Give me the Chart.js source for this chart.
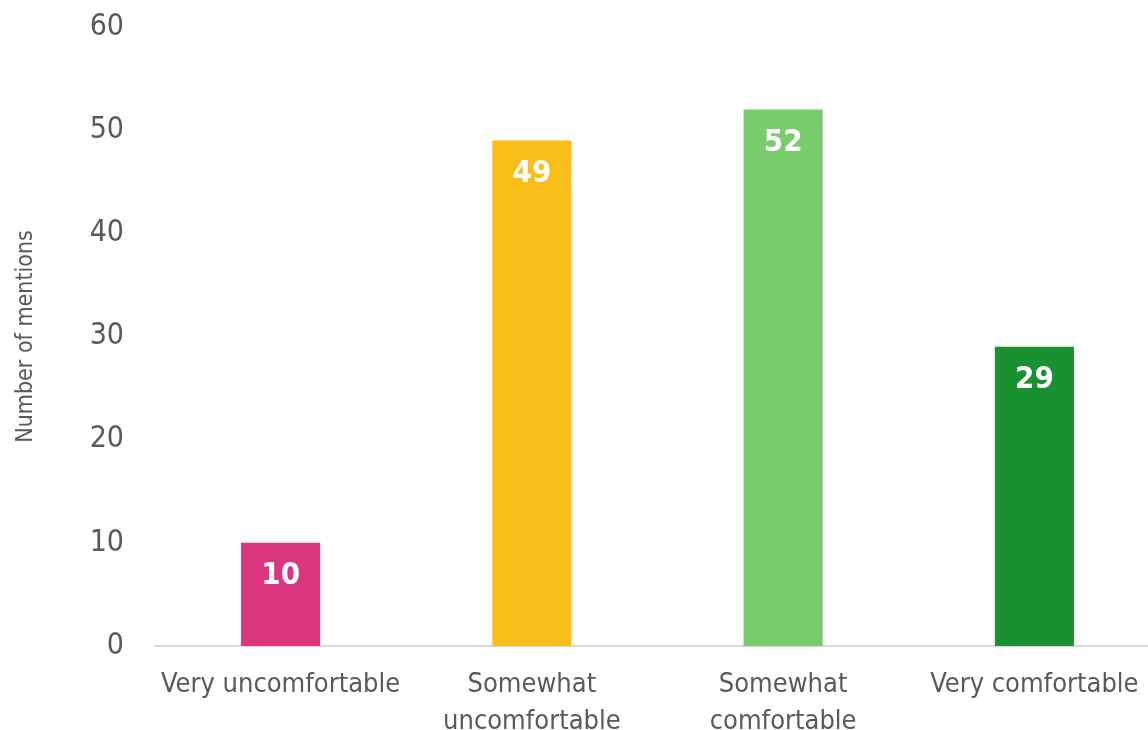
<!DOCTYPE html>
<html>
<head>
<meta charset="utf-8">
<script src="https://cdn.jsdelivr.net/npm/chart.js@4.4.0/dist/chart.umd.min.js"></script>
<style>
  html, body { margin: 0; padding: 0; background: #fff; overflow: hidden; }
  #wrap { width: 1160px; height: 730px; }
</style>
</head>
<body>
<div id="wrap"><canvas id="comfortChart" width="1160" height="730"></canvas></div>
<script>
const categories = [
    'Very uncomfortable',
    ['Somewhat', 'uncomfortable'],
    ['Somewhat', 'comfortable'],
    'Very comfortable'
];
const mentions = [10, 49, 52, 29];
const barColors = ['#DB3580', '#F9BE17', '#7ACC6F', '#1A9131'];
const yTicks = [0, 10, 20, 30, 40, 50, 60];

const FONT = '"DejaVu Sans Condensed", "DejaVu Sans", sans-serif';
const GREY = '#595959';

// white bold numbers sitting inside the top of each bar
const barLabels = {
    id: 'barLabels',
    afterDatasetsDraw(chart) {
        const ctx = chart.ctx;
        const meta = chart.getDatasetMeta(0);
        ctx.save();
        ctx.fillStyle = '#ffffff';
        ctx.font = 'bold 31px ' + FONT;
        ctx.textAlign = 'center';
        ctx.textBaseline = 'middle';
        meta.data.forEach((bar, i) => {
            ctx.fillText(String(mentions[i]), bar.x, bar.y + 33);
        });
        ctx.restore();
    }
};

const ctx = document.getElementById('comfortChart').getContext('2d');
const chart = new Chart(ctx, {
    type: 'bar',
    data: {
        labels: categories,
        datasets: [{
            data: mentions,
            backgroundColor: barColors,
            borderWidth: 0,
            barPercentage: 0.315,
            categoryPercentage: 1.0
        }]
    },
    options: {
        responsive: false,
        animation: false,
        events: [],
        layout: { padding: { top: 27, left: 0, right: 0, bottom: 0 } },
        plugins: {
            legend: { display: false },
            tooltip: { enabled: false }
        },
        scales: {
            x: {
                grid: { display: false, drawTicks: false },
                border: { display: true, color: '#D9D9D9', width: 2 },
                ticks: {
                    color: GREY,
                    font: { family: FONT, size: 27, lineHeight: 1.37 },
                    padding: 20,
                    maxRotation: 0,
                    autoSkip: false
                },
                afterFit: s => { s.height = 84; }
            },
            y: {
                min: 0,
                max: 60,
                afterBuildTicks: s => { s.ticks = yTicks.map(v => ({ value: v })); },
                grid: { display: false, drawTicks: false },
                border: { display: false },
                ticks: {
                    color: GREY,
                    font: { family: FONT, size: 30 },
                    padding: 31
                },
                title: {
                    display: true,
                    text: 'Number of mentions',
                    color: GREY,
                    font: { family: FONT, size: 23 },
                    padding: { top: 12, bottom: 0 }
                },
                // fixed axis width, and no extra room above the top tick
                afterFit: s => { s.width = 155; s.paddingTop = 0; }
            }
        }
    },
    plugins: [barLabels]
});
</script>
</body>
</html>
